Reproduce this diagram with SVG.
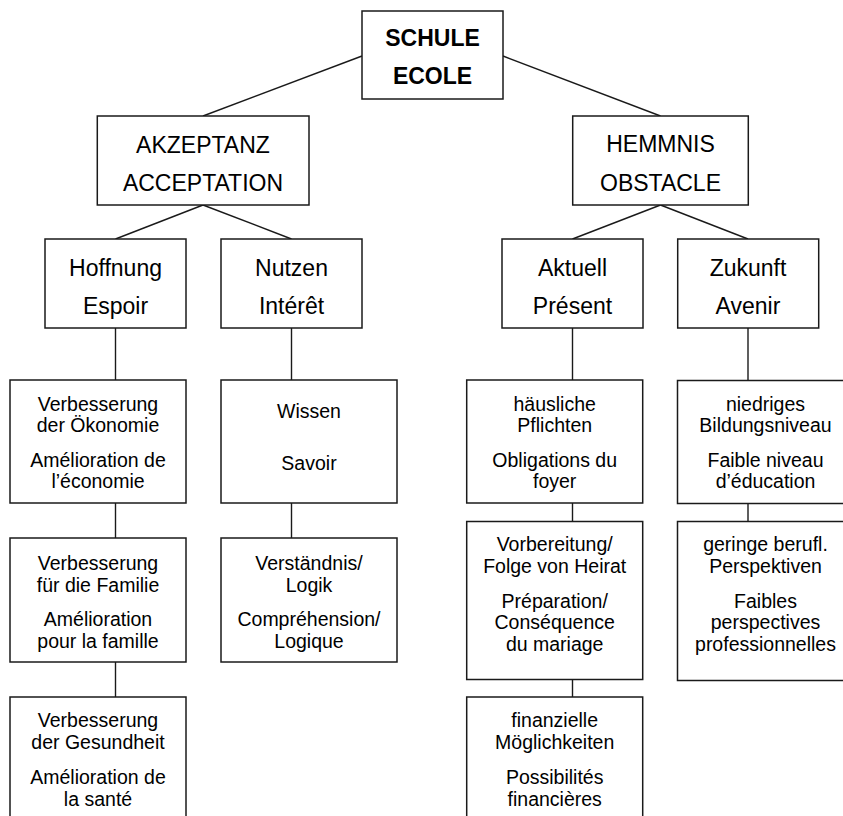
<svg xmlns="http://www.w3.org/2000/svg" width="843" height="816" viewBox="0 0 843 816">
<style>
rect{fill:#fff;stroke:#1a1a1a;stroke-width:1.5}
.c line{stroke:#1a1a1a;stroke-width:1.4}
text{font-family:"Liberation Sans",Arial,sans-serif;fill:#000;text-anchor:middle}
.b{font-weight:bold;font-size:23px}
.m{font-size:23px}
.s{font-size:19.5px}
</style>
<rect x="0" y="0" width="843" height="816" style="fill:#fff;stroke:none"/>
<g class="c" id="connectors">
<line x1="362" y1="56" x2="203" y2="116"/>
<line x1="503" y1="56" x2="660.5" y2="116"/>
<line x1="203" y1="205" x2="115.5" y2="239"/>
<line x1="203" y1="205" x2="291.5" y2="239"/>
<line x1="660.5" y1="205" x2="572.5" y2="239"/>
<line x1="660.5" y1="205" x2="748" y2="239"/>
<line x1="115.5" y1="328" x2="115.5" y2="380"/>
<line x1="115.5" y1="503" x2="115.5" y2="538"/>
<line x1="115.5" y1="662" x2="115.5" y2="697"/>
<line x1="291.5" y1="328" x2="291.5" y2="380"/>
<line x1="291.5" y1="503" x2="291.5" y2="538"/>
<line x1="572.5" y1="328" x2="572.5" y2="380"/>
<line x1="572.5" y1="503" x2="572.5" y2="521.5"/>
<line x1="572.5" y1="679.5" x2="572.5" y2="697"/>
<line x1="748" y1="328" x2="748" y2="380"/>
<line x1="748" y1="503" x2="748" y2="521.5"/>
</g>
<g id="schule"><rect x="362" y="11" width="141" height="88"/><text class="b" x="432.5" y="46">SCHULE</text><text class="b" x="432.5" y="84.3">ECOLE</text></g>
<g id="akzeptanz"><rect x="97.3" y="116" width="211.7" height="89"/><text class="m" x="203" y="152.5">AKZEPTANZ</text><text class="m" x="203" y="191">ACCEPTATION</text></g>
<g id="hemmnis"><rect x="572.7" y="116" width="175.6" height="89"/><text class="m" x="660.5" y="152">HEMMNIS</text><text class="m" x="660.5" y="191">OBSTACLE</text></g>
<g id="hoffnung"><rect x="45" y="239" width="141" height="89"/><text class="m" x="115.5" y="275.7">Hoffnung</text><text class="m" x="115.5" y="314">Espoir</text></g>
<g id="nutzen"><rect x="221" y="239" width="141" height="89"/><text class="m" x="291.5" y="275.7">Nutzen</text><text class="m" x="291.5" y="314">Intérêt</text></g>
<g id="aktuell"><rect x="502" y="239" width="141" height="89"/><text class="m" x="572.5" y="275.7">Aktuell</text><text class="m" x="572.5" y="314">Présent</text></g>
<g id="zukunft"><rect x="677.7" y="239" width="141" height="89"/><text class="m" x="748" y="275.7">Zukunft</text><text class="m" x="748" y="314">Avenir</text></g>
<g id="oekonomie"><rect x="10" y="380" width="176" height="123"/><text class="s" x="98" y="410.7">Verbesserung</text><text class="s" x="98" y="432.3">der Ökonomie</text><text class="s" x="98" y="466.7">Amélioration de</text><text class="s" x="98" y="488">l’économie</text></g>
<g id="wissen"><rect x="221" y="380" width="176" height="123"/><text class="s" x="309" y="417.7">Wissen</text><text class="s" x="309" y="470">Savoir</text></g>
<g id="haeusliche"><rect x="466.7" y="380" width="176" height="123"/><text class="s" x="554.7" y="410.7">häusliche</text><text class="s" x="554.7" y="432.3">Pflichten</text><text class="s" x="554.7" y="466.7">Obligations du</text><text class="s" x="554.7" y="488">foyer</text></g>
<g id="niedriges"><rect x="677.5" y="380.5" width="176" height="123"/><text class="s" x="765.5" y="410.7">niedriges</text><text class="s" x="765.5" y="432.3">Bildungsniveau</text><text class="s" x="765.5" y="466.7">Faible niveau</text><text class="s" x="765.5" y="488">d’éducation</text></g>
<g id="familie"><rect x="10" y="538" width="176" height="124"/><text class="s" x="98" y="570">Verbesserung</text><text class="s" x="98" y="591.7">für die Familie</text><text class="s" x="98" y="626">Amélioration</text><text class="s" x="98" y="647.7">pour la famille</text></g>
<g id="verstaendnis"><rect x="221" y="538" width="176" height="124"/><text class="s" x="309" y="570">Verständnis/</text><text class="s" x="309" y="591.7">Logik</text><text class="s" x="309" y="626">Compréhension/</text><text class="s" x="309" y="647.7">Logique</text></g>
<g id="vorbereitung"><rect x="466.7" y="521.5" width="176" height="158"/><text class="s" x="554.7" y="550.7">Vorbereitung/</text><text class="s" x="554.7" y="572.7">Folge von Heirat</text><text class="s" x="554.7" y="607.7">Préparation/</text><text class="s" x="554.7" y="629.3">Conséquence</text><text class="s" x="554.7" y="651">du mariage</text></g>
<g id="geringe"><rect x="677.5" y="521.5" width="176" height="159"/><text class="s" x="765.5" y="550.7">geringe berufl.</text><text class="s" x="765.5" y="572.7">Perspektiven</text><text class="s" x="765.5" y="607.7">Faibles</text><text class="s" x="765.5" y="629.3">perspectives</text><text class="s" x="765.5" y="651">professionnelles</text></g>
<g id="gesundheit"><rect x="10" y="697" width="176" height="130"/><text class="s" x="98" y="727.3">Verbesserung</text><text class="s" x="98" y="749.3">der Gesundheit</text><text class="s" x="98" y="784.3">Amélioration de</text><text class="s" x="98" y="806">la santé</text></g>
<g id="finanzielle"><rect x="466.7" y="697" width="176" height="130"/><text class="s" x="554.7" y="727.3">finanzielle</text><text class="s" x="554.7" y="749.3">Möglichkeiten</text><text class="s" x="554.7" y="784.3">Possibilités</text><text class="s" x="554.7" y="806">financières</text></g>
</svg>
